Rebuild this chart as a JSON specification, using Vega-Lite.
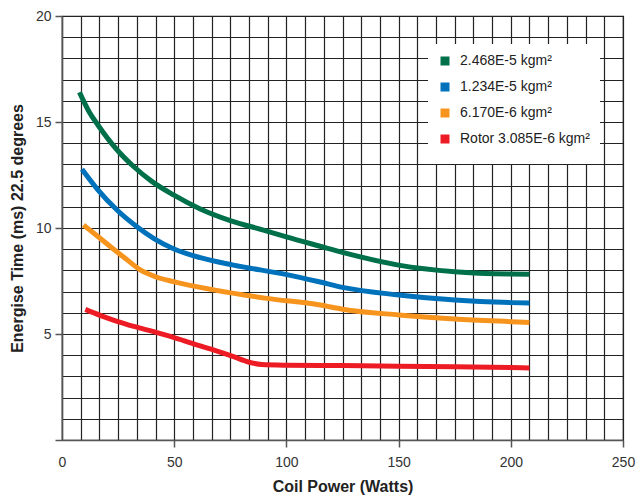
{
  "$schema": "https://vega.github.io/schema/vega-lite/v6.json",
  "autosize": "none",
  "width": 561,
  "height": 424,
  "padding": {"left": 62, "top": 16, "right": 13, "bottom": 55},
  "background": "white",
  "config": {
    "view": {"stroke": "#222222", "strokeWidth": 1.2},
    "font": "Liberation Sans"
  },
  "data": {
    "values": [
      {"s": "2.468E-5 kgm²", "x": 7.8, "y": 16.4},
      {"s": "2.468E-5 kgm²", "x": 12, "y": 15.5},
      {"s": "2.468E-5 kgm²", "x": 16, "y": 14.86},
      {"s": "2.468E-5 kgm²", "x": 24, "y": 13.75},
      {"s": "2.468E-5 kgm²", "x": 31.9, "y": 12.9},
      {"s": "2.468E-5 kgm²", "x": 40, "y": 12.2},
      {"s": "2.468E-5 kgm²", "x": 49.7, "y": 11.56},
      {"s": "2.468E-5 kgm²", "x": 61.6, "y": 10.9},
      {"s": "2.468E-5 kgm²", "x": 75, "y": 10.35},
      {"s": "2.468E-5 kgm²", "x": 89.8, "y": 9.9},
      {"s": "2.468E-5 kgm²", "x": 100, "y": 9.58},
      {"s": "2.468E-5 kgm²", "x": 115, "y": 9.14},
      {"s": "2.468E-5 kgm²", "x": 125, "y": 8.85},
      {"s": "2.468E-5 kgm²", "x": 150, "y": 8.25},
      {"s": "2.468E-5 kgm²", "x": 175, "y": 7.94},
      {"s": "2.468E-5 kgm²", "x": 200, "y": 7.83},
      {"s": "2.468E-5 kgm²", "x": 208.3, "y": 7.82},
      {"s": "1.234E-5 kgm²", "x": 8.9, "y": 12.77},
      {"s": "1.234E-5 kgm²", "x": 16, "y": 11.8},
      {"s": "1.234E-5 kgm²", "x": 24.5, "y": 10.85},
      {"s": "1.234E-5 kgm²", "x": 33.4, "y": 10.06},
      {"s": "1.234E-5 kgm²", "x": 41, "y": 9.5},
      {"s": "1.234E-5 kgm²", "x": 49.7, "y": 9.02},
      {"s": "1.234E-5 kgm²", "x": 61.6, "y": 8.6},
      {"s": "1.234E-5 kgm²", "x": 76.4, "y": 8.25},
      {"s": "1.234E-5 kgm²", "x": 100.2, "y": 7.8},
      {"s": "1.234E-5 kgm²", "x": 115, "y": 7.45},
      {"s": "1.234E-5 kgm²", "x": 125, "y": 7.2},
      {"s": "1.234E-5 kgm²", "x": 150, "y": 6.84},
      {"s": "1.234E-5 kgm²", "x": 175, "y": 6.6},
      {"s": "1.234E-5 kgm²", "x": 200, "y": 6.48},
      {"s": "1.234E-5 kgm²", "x": 208.3, "y": 6.46},
      {"s": "6.170E-6 kgm²", "x": 9.6, "y": 10.14},
      {"s": "6.170E-6 kgm²", "x": 16, "y": 9.6},
      {"s": "6.170E-6 kgm²", "x": 23, "y": 9.0},
      {"s": "6.170E-6 kgm²", "x": 29, "y": 8.5},
      {"s": "6.170E-6 kgm²", "x": 34.9, "y": 8.02},
      {"s": "6.170E-6 kgm²", "x": 41.6, "y": 7.7},
      {"s": "6.170E-6 kgm²", "x": 49.7, "y": 7.47},
      {"s": "6.170E-6 kgm²", "x": 67.5, "y": 7.08},
      {"s": "6.170E-6 kgm²", "x": 91.3, "y": 6.68},
      {"s": "6.170E-6 kgm²", "x": 115, "y": 6.37},
      {"s": "6.170E-6 kgm²", "x": 125, "y": 6.17},
      {"s": "6.170E-6 kgm²", "x": 150, "y": 5.9},
      {"s": "6.170E-6 kgm²", "x": 175, "y": 5.71},
      {"s": "6.170E-6 kgm²", "x": 200, "y": 5.58},
      {"s": "6.170E-6 kgm²", "x": 208.3, "y": 5.54},
      {"s": "Rotor 3.085E-6 kgm²", "x": 10.4, "y": 6.16},
      {"s": "Rotor 3.085E-6 kgm²", "x": 17, "y": 5.88},
      {"s": "Rotor 3.085E-6 kgm²", "x": 24.5, "y": 5.6},
      {"s": "Rotor 3.085E-6 kgm²", "x": 32, "y": 5.36},
      {"s": "Rotor 3.085E-6 kgm²", "x": 40.8, "y": 5.11},
      {"s": "Rotor 3.085E-6 kgm²", "x": 49.7, "y": 4.84},
      {"s": "Rotor 3.085E-6 kgm²", "x": 58, "y": 4.56},
      {"s": "Rotor 3.085E-6 kgm²", "x": 67.5, "y": 4.25},
      {"s": "Rotor 3.085E-6 kgm²", "x": 76.4, "y": 3.93},
      {"s": "Rotor 3.085E-6 kgm²", "x": 83, "y": 3.68},
      {"s": "Rotor 3.085E-6 kgm²", "x": 89, "y": 3.56},
      {"s": "Rotor 3.085E-6 kgm²", "x": 100, "y": 3.53},
      {"s": "Rotor 3.085E-6 kgm²", "x": 125, "y": 3.51},
      {"s": "Rotor 3.085E-6 kgm²", "x": 150, "y": 3.48},
      {"s": "Rotor 3.085E-6 kgm²", "x": 175, "y": 3.45},
      {"s": "Rotor 3.085E-6 kgm²", "x": 200, "y": 3.42},
      {"s": "Rotor 3.085E-6 kgm²", "x": 208.3, "y": 3.4}
    ]
  },
  "mark": {"type": "line", "strokeWidth": 5, "interpolate": "monotone"},
  "encoding": {
    "x": {
      "field": "x",
      "type": "quantitative",
      "scale": {"domain": [0, 250], "nice": false, "zero": false},
      "axis": {
        "title": "Coil Power (Watts)",
        "titleFont": "Liberation Sans",
        "titleFontSize": 16,
        "titleFontWeight": "bold",
        "titleColor": "#222222",
        "titlePadding": 9,
        "values": [0, 8.333333, 16.666667, 25, 33.333333, 41.666667, 50, 58.333333, 66.666667, 75, 83.333333, 91.666667, 100, 108.333333, 116.666667, 125, 133.333333, 141.666667, 150, 158.333333, 166.666667, 175, 183.333333, 191.666667, 200, 208.333333, 216.666667, 225, 233.333333, 241.666667, 250],
        "labelExpr": "datum.value % 50 == 0 ? format(datum.value, 'd') : ''",
        "labelFont": "Liberation Sans",
        "labelFontSize": 14,
        "labelColor": "#333333",
        "labelPadding": 8,
        "labelFlush": false,
        "tickSize": 7,
        "tickColor": "#555555",
        "tickWidth": 1.5,
        "tickOpacity": {"condition": {"test": "datum.value % 50 == 0 && datum.value > 0", "value": 1}, "value": 0},
        "domainColor": "#555555",
        "domainWidth": 1.5,
        "grid": true,
        "gridColor": "#222222",
        "gridWidth": 1.2,
        "gridOpacity": 1
      }
    },
    "y": {
      "field": "y",
      "type": "quantitative",
      "scale": {"domain": [0, 20], "nice": false},
      "axis": {
        "title": "Energise Time (ms) 22.5 degrees",
        "titleFont": "Liberation Sans",
        "titleFontSize": 16,
        "titleFontWeight": "bold",
        "titleColor": "#222222",
        "titlePadding": 10,
        "values": [0, 1, 2, 3, 4, 5, 6, 7, 8, 9, 10, 11, 12, 13, 14, 15, 16, 17, 18, 19, 20],
        "labelExpr": "datum.value % 5 == 0 && datum.value > 0 ? format(datum.value, 'd') : ''",
        "labelFont": "Liberation Sans",
        "labelFontSize": 14,
        "labelColor": "#333333",
        "labelPadding": 4,
        "labelFlush": false,
        "tickSize": 7,
        "tickColor": "#555555",
        "tickWidth": 1.5,
        "tickOpacity": {"condition": {"test": "datum.value % 5 == 0", "value": 1}, "value": 0},
        "domainColor": "#555555",
        "domainWidth": 1.5,
        "grid": true,
        "gridColor": "#222222",
        "gridWidth": 1.2,
        "gridOpacity": 1
      }
    },
    "color": {
      "field": "s",
      "type": "nominal",
      "scale": {
        "domain": ["2.468E-5 kgm²", "1.234E-5 kgm²", "6.170E-6 kgm²", "Rotor 3.085E-6 kgm²"],
        "range": ["#00704a", "#0072bc", "#f7941d", "#ed1c24"]
      },
      "legend": {
        "title": null,
        "orient": "none",
        "legendX": 366,
        "legendY": 28,
        "fillColor": "white",
        "padding": 10,
        "symbolType": "square",
        "symbolSize": 4,
        "symbolStrokeWidth": 7,
        "symbolOpacity": 1,
        "labelFont": "Liberation Sans",
        "labelFontSize": 14,
        "labelColor": "#222222",
        "rowPadding": -4,
        "labelOffset": 8
      }
    }
  }
}
